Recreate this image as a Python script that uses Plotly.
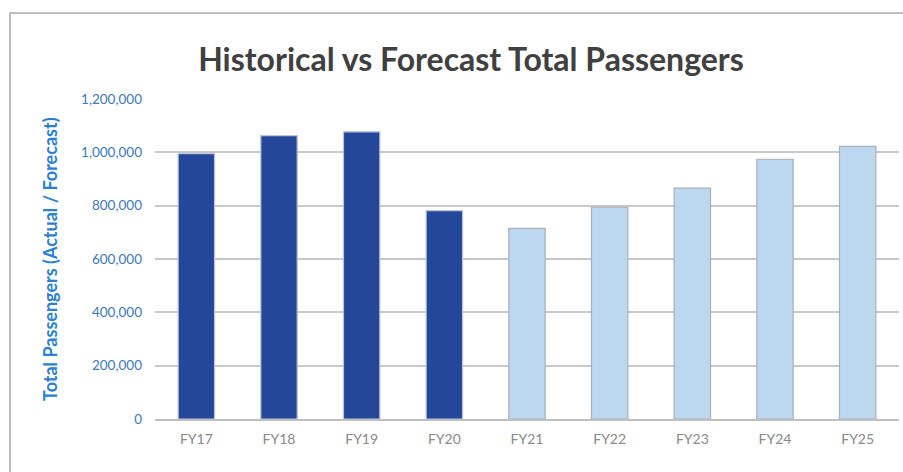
import plotly.graph_objects as go

hist_years = ["FY17", "FY18", "FY19", "FY20"]
hist_values = [995000, 1063000, 1077000, 781000]
fc_years = ["FY21", "FY22", "FY23", "FY24", "FY25"]
fc_values = [715000, 794000, 866000, 974000, 1022000]
y_ticks = [0, 200000, 400000, 600000, 800000, 1000000, 1200000]
y_tick_labels = ["0", "200,000", "400,000", "600,000", "800,000", "1,000,000", "1,200,000"]

fig = go.Figure()
fig.add_trace(go.Bar(x=hist_years, y=hist_values, name="Actual",
                     marker=dict(color="#25479A", line=dict(color="#B8C4D8", width=1.2))))
fig.add_trace(go.Bar(x=fc_years, y=fc_values, name="Forecast",
                     marker=dict(color="#BCD8F1", line=dict(color="#A8B0B8", width=1.2))))

W, H = 903, 472
L, R, T, B = 155, 4, 99, 53
pw, ph = W - L - R, H - T - B

def px(x):
    return (x - L) / pw

def py(y):
    return (H - B - y) / ph

fig.update_layout(
    width=W, height=H,
    margin=dict(l=L, r=R, t=T, b=B),
    paper_bgcolor="white", plot_bgcolor="white",
    barmode="overlay", bargap=0.56, showlegend=False,
    font=dict(family="Lato, Open Sans, sans-serif"),
    title=dict(text="<b>Historical vs Forecast Total Passengers</b>",
               x=471 / W, xanchor="center", xref="container",
               y=1 - 60 / H, yanchor="middle",
               font=dict(size=32, color="#404040", family="Lato, sans-serif")),
    xaxis=dict(categoryorder="array", categoryarray=hist_years + fc_years,
               showline=True, linecolor="#C0C0C0", linewidth=2,
               ticklabelstandoff=6,
               tickfont=dict(size=14, color="#8A8A8A"), ticks="", showgrid=False),
    yaxis=dict(range=[0, 1200000], tickvals=y_ticks, ticktext=y_tick_labels,
               showgrid=True, gridcolor="#C8C8C8", gridwidth=2,
               zeroline=False, ticks="",
               ticklabelstandoff=12,
               tickfont=dict(size=13.5, color="#3C78BE", family="Lato, sans-serif")),
    shapes=[dict(type="rect", xref="paper", yref="paper",
                 x0=px(10), x1=px(915), y0=py(480), y1=py(13),
                 line=dict(color="#A8A8A8", width=1.5), fillcolor="rgba(0,0,0,0)", layer="below")],
    annotations=[dict(text="<b>Total Passengers (Actual / Forecast)</b>", textangle=-90,
                      xref="paper", yref="paper", x=px(50), y=0.5,
                      xanchor="center", yanchor="middle", showarrow=False,
                      font=dict(size=18, color="#2A80D4", family="Lato, sans-serif"))],
)

fig.write_html("out.html")
